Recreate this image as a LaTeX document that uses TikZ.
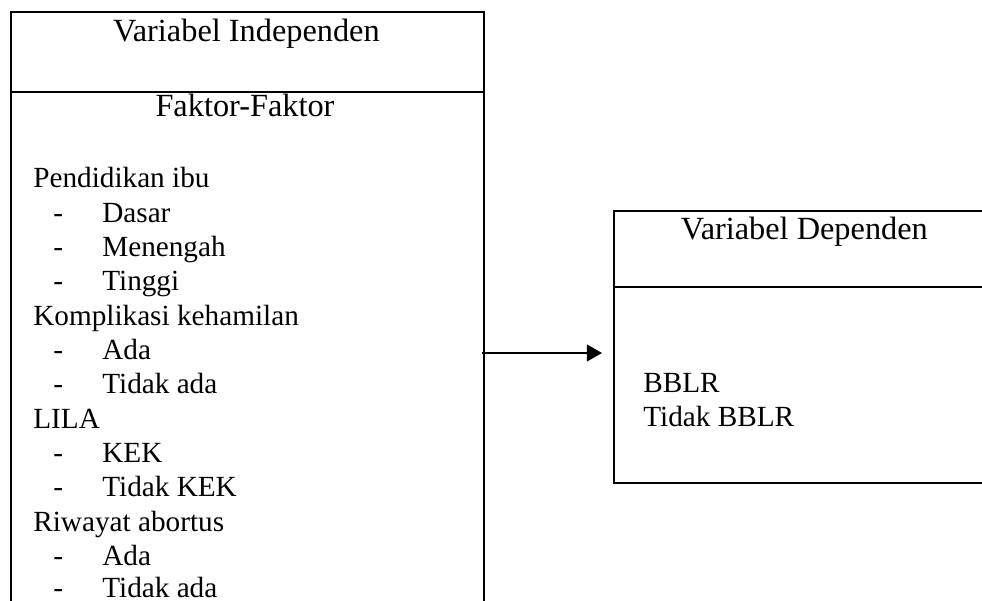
\documentclass[tikz,border=0pt]{standalone}
\usepackage{fontspec}
\setmainfont{Liberation Serif}
\usetikzlibrary{arrows.meta}

\tikzset{
    kotak/.style={black, line width=1.4pt},
    judul/.style={anchor=base, inner sep=0pt, font=\fontsize{23}{27}\selectfont},
    teks/.style={anchor=base west, inner sep=0pt, font=\fontsize{20.8}{24.4}\selectfont},
    panah/.style={black, line width=0.9pt, -{Triangle[length=10.7pt,width=12pt]}}
}

\begin{document}
\begin{tikzpicture}

    \useasboundingbox (0,0) rectangle (24.55,15);
    \clip (0,0) rectangle (24.55,15);

    % kotak variabel independen
    \draw[kotak] (0.275,-1) rectangle (12.1,14.7);
    \draw[kotak] (0.275,12.7) -- (12.1,12.7);

    % kotak variabel dependen
    \draw[kotak] (15.35,2.925) rectangle (25.5,9.725);
    \draw[kotak] (15.35,7.825) -- (25.5,7.825);

    % judul
    \node[judul] (indep) at (6.16,13.95) {Variabel Independen};
    \node[judul] (faktor) at (6.125,12.075) {Faktor-Faktor};
    \node[judul] (dep) at (20.11,9.0) {Variabel Dependen};

    % faktor-faktor
    \node[teks] (didik) at (0.825,10.3) {Pendidikan ibu};
    \node[teks] (d1) at (1.325,9.4425) {-};
    \node[teks] (dasar) at (2.55,9.4425) {Dasar};
    \node[teks] (d2) at (1.325,8.585) {-};
    \node[teks] (menengah) at (2.55,8.585) {Menengah};
    \node[teks] (d3) at (1.325,7.7275) {-};
    \node[teks] (tinggi) at (2.55,7.7275) {Tinggi};
    \node[teks] (komplikasi) at (0.825,6.87) {Komplikasi kehamilan};
    \node[teks] (d4) at (1.325,6.0125) {-};
    \node[teks] (ada1) at (2.55,6.0125) {Ada};
    \node[teks] (d5) at (1.325,5.155) {-};
    \node[teks] (tidakada1) at (2.55,5.155) {Tidak ada};
    \node[teks] (lila) at (0.825,4.2975) {LILA};
    \node[teks] (d6) at (1.325,3.44) {-};
    \node[teks] (kek) at (2.55,3.44) {KEK};
    \node[teks] (d7) at (1.325,2.5825) {-};
    \node[teks] (tidakkek) at (2.55,2.5825) {Tidak KEK};
    \node[teks] (abortus) at (0.825,1.725) {Riwayat abortus};
    \node[teks] (d8) at (1.325,0.8675) {-};
    \node[teks] (ada2) at (2.55,0.8675) {Ada};
    \node[teks] (d9) at (1.325,0.06) {-};
    \node[teks] (tidakada2) at (2.55,0.06) {Tidak ada};

    % hasil
    \node[teks] (bblr) at (16.075,5.175) {BBLR};
    \node[teks] (tidakbblr) at (16.075,4.325) {Tidak BBLR};

    % panah
    \coordinate (pangkal) at (12.05,6.175);
    \coordinate (ujung) at (15.05,6.175);
    \draw[panah] (pangkal) -- (ujung);

\end{tikzpicture}
\end{document}
